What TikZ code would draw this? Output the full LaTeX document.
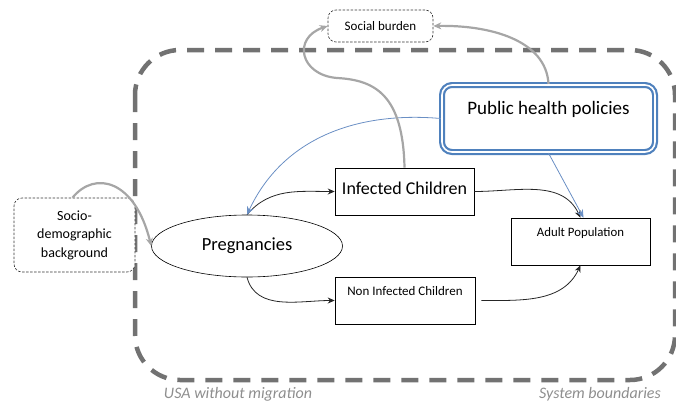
\documentclass[tikz,border=0pt]{standalone}
\usepackage{fontspec}
\setmainfont{Carlito}
\usetikzlibrary{shapes.geometric,arrows.meta}
\definecolor{boundgray}{HTML}{727272}
\definecolor{flowgray}{HTML}{A6A6A6}
\definecolor{polblue}{HTML}{4F81BD}
\definecolor{linkblue}{HTML}{6A8FC4}
\tikzset{
  stockbox/.style={draw, rectangle, line width=0.6pt, fill=white},
  outerbox/.style={draw=black!80, rectangle, line width=0.6pt, dash pattern=on 2.5pt off 1.5pt,
    rounded corners=8pt, fill=white},
  flow/.style={-{Stealth[length=7pt,width=6pt]}, thick, black!85},
  influence/.style={-{Stealth[length=8pt,width=7pt]}, line width=0.8pt, linkblue},
  feedback/.style={-{Stealth[length=8pt,width=7pt]}, line width=2.2pt, flowgray}
}

\begin{document}
\begin{tikzpicture}[x=1pt, y=-1pt]
  \useasboundingbox (0,0) rectangle (676,407);

  % system boundary
  \draw[boundgray, line width=4.5pt, dash pattern=on 17pt off 11pt, rounded corners=45pt]
    (135,50) rectangle (675,380);
  \node (usa) [text=boundgray!80, font=\itshape\fontsize{16}{18}\selectfont] at (238,394) {USA without migration};
  \node (sysb) [text=boundgray!80, font=\itshape\fontsize{16}{18}\selectfont] at (600,394) {System boundaries};

  % stocks inside the boundary
  \node (preg) [draw, ellipse, line width=0.6pt, fill=white, minimum width=191, minimum height=62, inner sep=0pt,
    font=\fontsize{18.5}{20}\selectfont] at (247,246) {Pregnancies};
  \node (ic) [stockbox, minimum width=139, minimum height=47, text depth=7pt,
    font=\fontsize{18}{20}\selectfont] at (404.5,191.5) {Infected Children};
  \node (nic) [stockbox, minimum width=140, minimum height=47, text depth=19pt,
    font=\fontsize{13}{15}\selectfont] at (405,300.5) {Non Infected Children};
  \node (adult) [stockbox, minimum width=139, minimum height=47, text depth=18pt,
    font=\fontsize{12.8}{15}\selectfont] at (580.5,241.5) {Adult Population};
  \node (ph) [draw=polblue, rectangle, line width=2.2pt, double=white, double distance=1.6pt,
    rounded corners=10pt, fill=white, minimum width=213, minimum height=67, text depth=22pt,
    font=\fontsize{19}{21}\selectfont] at (548.5,118.5) {Public health policies};

  % outside the boundary
  \node (sb) [outerbox, minimum width=105, minimum height=32, font=\fontsize{13}{15}\selectfont]
    at (380.5,26) {Social burden};
  \node (socio) [outerbox, minimum width=121, minimum height=74, align=center,
    font=\fontsize{14}{18.5}\selectfont] at (74.5,235) {Socio-\\demographic\\background};

  % flows between stocks
  \draw[flow] (preg.north) to[out=50, in=180] (ic.west);
  \draw[flow] (ic.east) to[out=0, in=115] (adult.north);
  \draw[flow] (preg.south) to[out=-75, in=180] (nic.west);
  \draw[flow] ([xshift=6pt]nic.east) to[out=0, in=-115] (adult.south);

  % policy influences
  \draw[influence] (ph.west) to[out=175, in=65] (preg.north);
  \draw[influence] (ph.south) -- ([xshift=3pt]adult.north);

  % feedback to social burden and background
  \draw[feedback] (ic.north) .. controls (403,95) and (375,80) .. (337,78)
    .. controls (300,75) and (292,38) .. (sb.west);
  \draw[feedback] (ph.north) .. controls (546,40) and (490,25) .. (sb.east);
  \draw[feedback] ([xshift=-2pt]socio.north) .. controls (95,170) and (135,180) .. (preg.west);
\end{tikzpicture}
\end{document}
